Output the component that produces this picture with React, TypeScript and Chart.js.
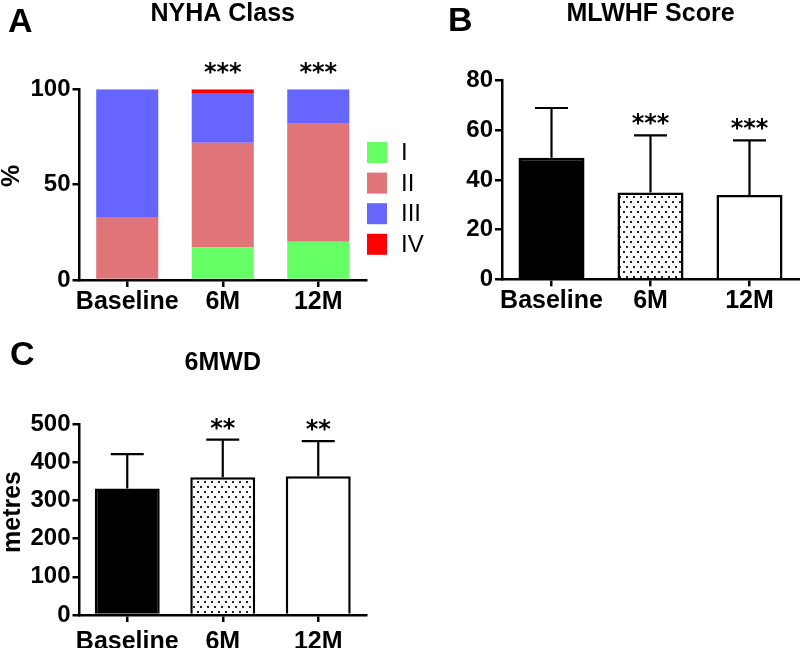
import React, { useEffect, useRef } from 'react';
import { Chart, registerables } from 'chart.js';

Chart.register(...registerables);

const FONT = "'Liberation Sans', Arial, sans-serif";
const STAR_FONT = "'DejaVu Sans', sans-serif";

// ---------- data ----------
const categories = ['Baseline', '6M', '12M'];

const nyhaLabels = ['I', 'II', 'III', 'IV'];
const nyhaI = [0, 17, 20];
const nyhaII = [33, 55, 62];
const nyhaIII = [67, 26, 18];
const nyhaIV = [0, 2, 0];
const nyhaColors = ['#66FF66', '#E07579', '#6666FF', '#FF0000'];
const nyhaSig = ['', '***', '***'];
const nyhaMax = 100;
const nyhaStep = 50;

const mlwhfMean = [49, 35, 34];
const mlwhfUpper = [69, 58, 56];
const mlwhfSig = ['', '***', '***'];
const mlwhfMax = 80;
const mlwhfStep = 20;

const walkMean = [332, 361, 364];
const walkUpper = [422, 460, 456];
const walkSig = ['', '**', '**'];
const walkMax = 500;
const walkStep = 100;

// ---------- helpers ----------
function makeDotPattern(): CanvasPattern | string {
  const c = document.createElement('canvas');
  c.width = 7;
  c.height = 10;
  const g = c.getContext('2d');
  if (!g) return '#fff';
  g.fillStyle = '#fff';
  g.fillRect(0, 0, 7, 10);
  g.fillStyle = '#222';
  g.fillRect(1, 1, 2, 2);
  g.fillRect(4, 6, 2, 2);
  const ctx = document.createElement('canvas').getContext('2d');
  return (ctx && ctx.createPattern(c, 'repeat')) || '#fff';
}

const axisGrid = {
  display: true,
  drawOnChartArea: false,
  drawTicks: true,
  tickLength: 7,
  color: '#000',
  lineWidth: 2.5,
};
const axisBorder = { display: true, color: '#000', width: 2.5 };

function xScale(height: number, stacked: boolean, pad: number) {
  return {
    stacked,
    offset: true,
    grid: { ...axisGrid, offset: false },
    border: axisBorder,
    ticks: {
      color: '#000',
      padding: pad,
      autoSkip: false,
      maxRotation: 0,
      font: { family: FONT, weight: 'bold', size: 25 },
    },
    afterFit: (s: any) => {
      s.height = height;
    },
  };
}

function yScale(width: number, max: number, step: number, stacked: boolean) {
  return {
    stacked,
    min: 0,
    max,
    grid: axisGrid,
    border: axisBorder,
    ticks: {
      stepSize: step,
      color: '#000',
      padding: 2,
      font: { family: FONT, weight: 'bold', size: 24 },
    },
    afterFit: (s: any) => {
      s.width = width;
    },
  };
}

interface DecorOpts {
  letter: string;
  letterX: number;
  letterY: number;
  title: string;
  titleY: number;
  yTitle?: string;
  yTitleX?: number;
  yTitleY?: number;
  yTitleSize?: number;
  sig: string[];
  sigOffset: number;
  upper?: number[];
  legend?: { x: number; y: number; step: number };
}

function decorPlugin(o: DecorOpts) {
  return {
    id: 'decor',
    afterDatasetsDraw(chart: any) {
      if (!o.upper) return;
      const ctx = chart.ctx;
      const ys = chart.scales.y;
      const meta = chart.getDatasetMeta(0);
      ctx.save();
      ctx.strokeStyle = '#000';
      ctx.lineWidth = 2.2;
      meta.data.forEach((bar: any, i: number) => {
        const yTop = ys.getPixelForValue(o.upper![i]);
        ctx.beginPath();
        ctx.moveTo(bar.x, bar.y);
        ctx.lineTo(bar.x, yTop);
        ctx.moveTo(bar.x - 16.5, yTop);
        ctx.lineTo(bar.x + 16.5, yTop);
        ctx.stroke();
      });
      ctx.restore();
    },
    afterDraw(chart: any) {
      const ctx = chart.ctx;
      const area = chart.chartArea;
      const ys = chart.scales.y;
      const xs = chart.scales.x;
      ctx.save();
      ctx.fillStyle = '#000';
      ctx.textBaseline = 'alphabetic';
      // panel letter
      ctx.font = `bold 34px ${FONT}`;
      ctx.textAlign = 'left';
      ctx.fillText(o.letter, o.letterX, o.letterY);
      // title
      ctx.font = `bold 25px ${FONT}`;
      ctx.textAlign = 'center';
      ctx.fillText(o.title, (area.left + area.right) / 2, o.titleY);
      // y title
      if (o.yTitle) {
        ctx.save();
        ctx.translate(o.yTitleX!, o.yTitleY!);
        ctx.rotate(-Math.PI / 2);
        ctx.font = `bold ${o.yTitleSize || 25}px ${FONT}`;
        ctx.textAlign = 'center';
        ctx.textBaseline = 'middle';
        ctx.fillText(o.yTitle, 0, 0);
        ctx.restore();
      }
      // significance stars
      ctx.font = `bold 24px ${STAR_FONT}`;
      ctx.textAlign = 'center';
      o.sig.forEach((s, i) => {
        if (!s) return;
        let top: number;
        if (o.upper) {
          top = ys.getPixelForValue(o.upper[i]);
        } else {
          const sum = chart.data.datasets.reduce(
            (acc: number, d: any) => acc + (d.data[i] || 0),
            0
          );
          top = ys.getPixelForValue(sum);
        }
        ctx.fillText(s, xs.getPixelForValue(i), top - o.sigOffset);
      });
      // legend
      if (o.legend) {
        const L = o.legend;
        ctx.textAlign = 'left';
        ctx.textBaseline = 'middle';
        ctx.font = `24px ${FONT}`;
        chart.data.datasets.forEach((d: any, i: number) => {
          const y = L.y + i * L.step;
          ctx.fillStyle = d.backgroundColor;
          ctx.fillRect(L.x, y, 20, 21);
          ctx.fillStyle = '#000';
          ctx.fillText(d.label, L.x + 34, y + 11.5);
        });
      }
      ctx.restore();
    },
  };
}

function PanelCanvas(props: {
  left: number;
  top: number;
  width: number;
  height: number;
  build: () => any;
}) {
  const ref = useRef<HTMLCanvasElement | null>(null);
  useEffect(() => {
    if (!ref.current) return;
    const chart = new Chart(ref.current, props.build());
    return () => chart.destroy();
  }, []);
  return (
    <canvas
      ref={ref}
      width={props.width}
      height={props.height}
      style={{
        position: 'absolute',
        left: props.left,
        top: props.top,
        width: props.width,
        height: props.height,
      }}
    />
  );
}

const baseOptions = {
  responsive: false,
  animation: false,
  devicePixelRatio: 1,
  plugins: { legend: { display: false }, tooltip: { enabled: false } },
};

function buildNyha() {
  const series = [nyhaI, nyhaII, nyhaIII, nyhaIV];
  return {
    type: 'bar',
    data: {
      labels: categories,
      datasets: series.map((d, i) => ({
        label: nyhaLabels[i],
        data: d,
        backgroundColor: nyhaColors[i],
        borderWidth: 0,
        barPercentage: 0.65,
        categoryPercentage: 1,
      })),
    },
    options: {
      ...baseOptions,
      layout: { padding: { left: 0, top: 89.3, right: 74, bottom: 0 } },
      scales: {
        x: xScale(40, true, 0),
        y: yScale(79.5, nyhaMax, nyhaStep, true),
      },
    },
    plugins: [
      decorPlugin({
        letter: 'A',
        letterX: 8,
        letterY: 32,
        title: 'NYHA Class',
        titleY: 21,
        yTitle: '%',
        yTitleX: 12,
        yTitleY: 176,
        yTitleSize: 25,
        sig: nyhaSig,
        sigOffset: 9,
        legend: { x: 367, y: 142, step: 30.6 },
      }),
    ],
  };
}

function buildMlwhf() {
  return {
    type: 'bar',
    data: {
      labels: categories,
      datasets: [
        {
          label: 'MLWHF Score',
          data: mlwhfMean,
          backgroundColor: ['#000', makeDotPattern(), '#fff'],
          borderColor: '#000',
          borderWidth: 2.5,
          barPercentage: 0.667,
          categoryPercentage: 1,
        },
      ],
    },
    options: {
      ...baseOptions,
      layout: { padding: { left: 0, top: 80.7, right: 1, bottom: 0 } },
      scales: {
        x: xScale(40.7, false, 0),
        y: yScale(62, mlwhfMax, mlwhfStep, false),
      },
    },
    plugins: [
      decorPlugin({
        letter: 'B',
        letterX: 8,
        letterY: 31,
        title: 'MLWHF Score',
        titleY: 21,
        sig: mlwhfSig,
        sigOffset: 4,
        upper: mlwhfUpper,
      }),
    ],
  };
}

function buildWalk() {
  return {
    type: 'bar',
    data: {
      labels: categories,
      datasets: [
        {
          label: '6MWD',
          data: walkMean,
          backgroundColor: ['#000', makeDotPattern(), '#fff'],
          borderColor: '#000',
          borderWidth: 2.5,
          barPercentage: 0.68,
          categoryPercentage: 1,
        },
      ],
    },
    options: {
      ...baseOptions,
      layout: { padding: { left: 0, top: 104.3, right: 74, bottom: 0 } },
      scales: {
        x: xScale(33, false, 5),
        y: yScale(79.5, walkMax, walkStep, false),
      },
    },
    plugins: [
      decorPlugin({
        letter: 'C',
        letterX: 10,
        letterY: 45,
        title: '6MWD',
        titleY: 50,
        yTitle: 'metres',
        yTitleX: 13,
        yTitleY: 192,
        yTitleSize: 25,
        sig: walkSig,
        sigOffset: 4,
        upper: walkUpper,
      }),
    ],
  };
}

export default function App() {
  return (
    <div
      style={{
        position: 'fixed',
        left: 0,
        top: 0,
        width: 800,
        height: 648,
        background: '#fff',
        overflow: 'hidden',
      }}
    >
      <PanelCanvas left={0} top={0} width={440} height={320} build={buildNyha} />
      <PanelCanvas left={440} top={0} width={360} height={320} build={buildMlwhf} />
      <PanelCanvas left={0} top={320} width={440} height={328} build={buildWalk} />
    </div>
  );
}
